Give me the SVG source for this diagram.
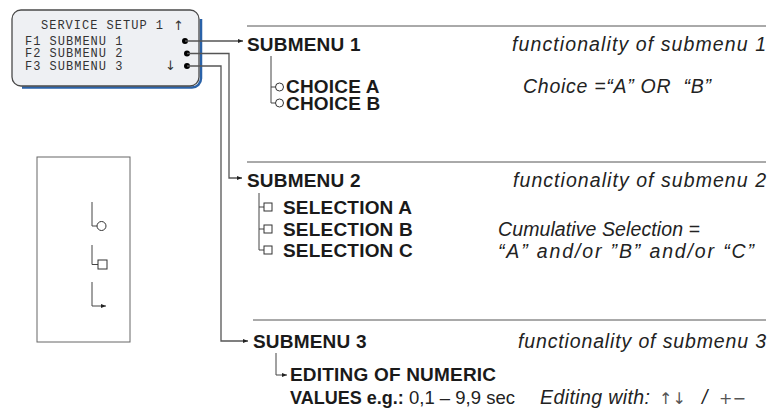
<svg xmlns="http://www.w3.org/2000/svg" width="769" height="412" viewBox="0 0 769 412">
<defs>
<style>
.b{font-family:"Liberation Sans",Arial,sans-serif;font-weight:bold;font-size:19px;fill:#1a1a1a;letter-spacing:0.2px}
.i{font-family:"Liberation Sans",Arial,sans-serif;font-style:italic;font-size:19.5px;fill:#222}
.n{font-family:"Liberation Sans",Arial,sans-serif;font-size:18.5px;fill:#222}
.sym{font-family:"DejaVu Sans",sans-serif;font-size:16px;fill:#555}
.lcd{font-family:"Liberation Mono","DejaVu Sans Mono",monospace;font-size:12px;fill:#333;letter-spacing:1px}
.ar{font-family:"DejaVu Sans",sans-serif;font-size:13px;fill:#333}
.sep{stroke:#555;stroke-width:1;fill:none}
.tree{stroke:#444;stroke-width:1;fill:none}
.con{stroke:#555;stroke-width:1.3;fill:none}
.ring{fill:#fff;stroke:#333;stroke-width:1}
</style>
<marker id="arr" viewBox="0 0 10 10" refX="10" refY="5" markerWidth="5" markerHeight="5" orient="auto" markerUnits="userSpaceOnUse">
<path d="M0,1 L10,5 L0,9 Z" fill="#222"/>
</marker>
</defs>
<rect width="769" height="412" fill="#fff"/>

<g id="lcd">
<path d="M22,87.5 H192 a9,9 0 0 0 9,-9 V19" stroke="#2a62a8" stroke-width="2.5" fill="none"/>
<rect x="12" y="10" width="187" height="76" rx="9" fill="#eef0f3" stroke="#4a4a4a" stroke-width="1.3"/>
<text class="lcd" x="41" y="29">SERVICE SETUP 1</text>
<text class="ar" x="173" y="29.5">↑</text>
<text class="lcd" x="25" y="44.5">F1 SUBMENU 1</text>
<text class="lcd" x="25" y="57">F2 SUBMENU 2</text>
<text class="lcd" x="25" y="69.5">F3 SUBMENU 3</text>
<text class="ar" x="165" y="70">↓</text>
<circle cx="185" cy="41" r="3"/>
<circle cx="187" cy="53.5" r="3"/>
<circle cx="187" cy="66" r="3"/>
</g>

<g id="connectors">
<path class="con" d="M185,41 H243" marker-end="url(#arr)"/>
<path class="con" d="M187,53.5 H229 V178 H242" marker-end="url(#arr)"/>
<path class="con" d="M187,66 H221 V341 H248" marker-end="url(#arr)"/>
</g>

<g id="legend">
<rect x="37" y="157" width="93" height="185" fill="none" stroke="#666" stroke-width="1"/>
<path class="tree" d="M92,202 V226 H97"/>
<circle class="ring" cx="101.5" cy="226" r="4.5"/>
<path class="tree" d="M92,245 V264.5 H98"/>
<rect class="ring" x="98" y="260" width="9" height="9"/>
<path class="tree" d="M92,282 V306 H106" marker-end="url(#arr)"/>
</g>

<g id="submenu1">
<line class="sep" x1="247" y1="26" x2="766" y2="26"/>
<text class="b" x="247" y="51">SUBMENU 1</text>
<text class="i" x="512" y="51" textLength="254">functionality of submenu 1</text>
<path class="tree" d="M271,56 V103 H275.5 M271,87 H275.5"/>
<circle class="ring" cx="279.5" cy="87" r="4"/>
<circle class="ring" cx="279.5" cy="103" r="4"/>
<text class="b" x="286" y="93">CHOICE A</text>
<text class="b" x="286" y="110">CHOICE B</text>
<text class="i" x="523" y="93" textLength="188" xml:space="preserve">Choice =“A” OR  “B”</text>
</g>

<g id="submenu2">
<line class="sep" x1="247" y1="162" x2="766" y2="162"/>
<text class="b" x="247" y="187">SUBMENU 2</text>
<text class="i" x="513" y="187" textLength="253">functionality of submenu 2</text>
<path class="tree" d="M259,193 V250 H264 M259,207 H264 M259,229 H264"/>
<rect class="ring" x="264" y="203" width="8" height="8"/>
<rect class="ring" x="264" y="225" width="8" height="8"/>
<rect class="ring" x="264" y="246" width="8" height="8"/>
<text class="b" x="283" y="214">SELECTION A</text>
<text class="b" x="283" y="236">SELECTION B</text>
<text class="b" x="283" y="257">SELECTION C</text>
<text class="i" x="498" y="236" textLength="202">Cumulative Selection =</text>
<text class="i" x="498" y="258" textLength="256">“A” and/or ”B” and/or “C”</text>
</g>

<g id="submenu3">
<line class="sep" x1="253" y1="320" x2="766" y2="320"/>
<text class="b" x="253" y="348">SUBMENU 3</text>
<text class="i" x="518" y="348" textLength="248">functionality of submenu 3</text>
<path class="tree" d="M276,353 V375 H287" marker-end="url(#arr)"/>
<text class="b" x="290" y="381">EDITING OF NUMERIC</text>
<text class="b" x="290" y="404" style="font-size:18px;letter-spacing:0">VALUES e.g.:</text>
<text class="n" x="409" y="404">0,1 – 9,9 sec</text>
<text class="i" x="540" y="404" textLength="110">Editing with:</text>
<text class="sym" x="659" y="404">↑↓</text>
<text class="i" x="702" y="404">/</text>
<text class="sym" x="719" y="404">+−</text>
</g>
</svg>
